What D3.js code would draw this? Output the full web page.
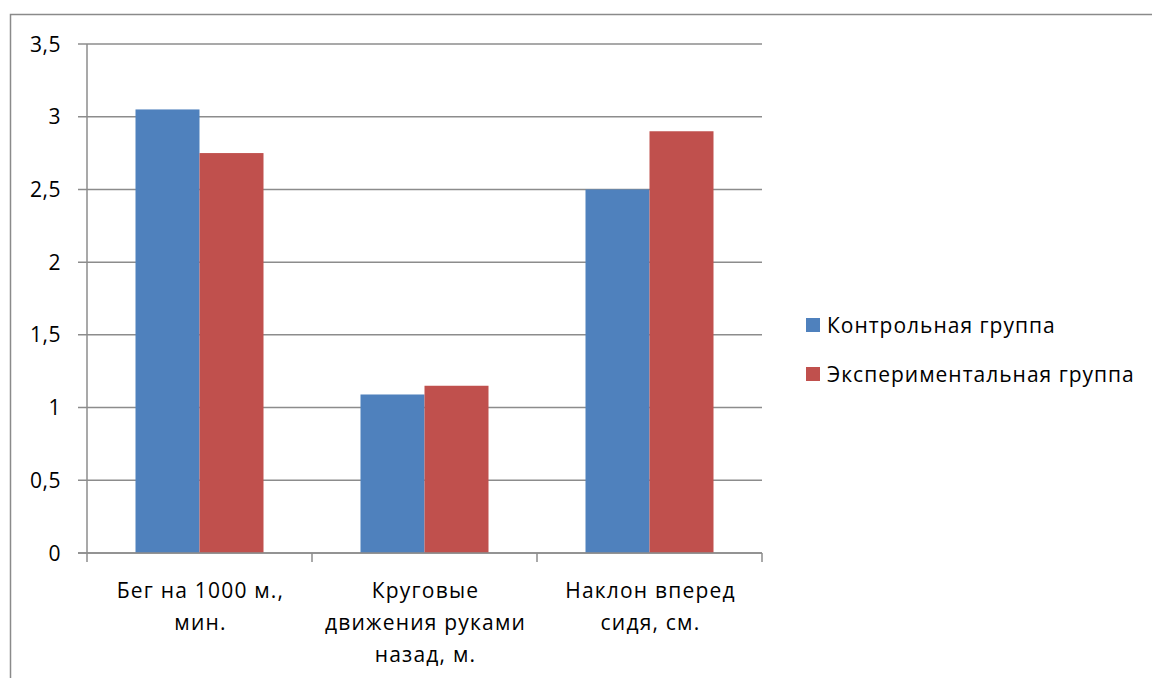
<!DOCTYPE html>
<html>
<head>
<meta charset="utf-8">
<script src="https://cdn.jsdelivr.net/npm/d3@7"></script>
<style>
  body { margin: 0; background: #fff; }
  svg text { font-family: "Open Sans", "Noto Sans", sans-serif; fill: #000; }
</style>
</head>
<body>
<div id="chart"></div>
<script>
// chart data
var categories = [
	["Бег на 1000 м.,", "мин."],
	["Круговые", "движения руками", "назад, м."],
	["Наклон вперед", "сидя, см."]
];
var seriesNames = ["Контрольная группа", "Экспериментальная группа"];
var controlValues = [3.05, 1.09, 2.5];
var experimentValues = [2.75, 1.15, 2.9];
var yTicks = [0, 0.5, 1, 1.5, 2, 2.5, 3, 3.5];
var colors = ["#4F81BD", "#C0504D"];

var width = 1152, height = 678;
var fontSize = "21px";

var svg = d3.select("#chart")
	.append("svg")
	.attr("width", width)
	.attr("height", height);

// outer chart frame (runs off right and bottom)
svg.append("rect")
	.attr("x", 10.5).attr("y", 14.5)
	.attr("width", 1200).attr("height", 800)
	.attr("fill", "none")
	.attr("stroke", "#8a8a8a")
	.attr("stroke-width", 1.5);

// plot area
var plot = {left: 87, right: 762, top: 44, bottom: 553};

var yScale = d3.scaleLinear()
	.domain([0, 3.5])
	.range([plot.bottom, plot.top]);

var xScale = d3.scaleBand()
	.domain(d3.range(categories.length))
	.range([plot.left, plot.right]);

var inner = d3.scaleBand()
	.domain([0, 1])
	.range([0, 128]);

// gridlines + y ticks
var grid = svg.append("g");
grid.selectAll("line")
	.data(yTicks)
	.enter()
	.append("line")
	.attr("x1", plot.left - 9)
	.attr("x2", plot.right)
	.attr("y1", function(d) { return yScale(d); })
	.attr("y2", function(d) { return yScale(d); })
	.attr("stroke", "#8c8c8c")
	.attr("stroke-width", 1.5);

svg.append("g").selectAll("text")
	.data(yTicks)
	.enter()
	.append("text")
	.attr("x", 61)
	.attr("y", function(d) { return yScale(d); })
	.attr("dy", "0.36em")
	.attr("text-anchor", "end")
	.style("font-size", fontSize)
	.style("letter-spacing", "0.5px")
	.text(function(d) { return String(d).replace(".", ","); });

// bars
var series = [controlValues, experimentValues];
var groups = svg.append("g").selectAll("g")
	.data(categories)
	.enter()
	.append("g")
	.attr("transform", function(d, i) {
		return "translate(" + (xScale(i) + xScale.bandwidth() / 2 - 64) + ",0)";
	});

groups.selectAll("rect")
	.data(function(d, i) { return series.map(function(s, k) { return {k: k, v: s[i]}; }); })
	.enter()
	.append("rect")
	.attr("x", function(d) { return inner(d.k); })
	.attr("width", inner.bandwidth())
	.attr("y", function(d) { return yScale(d.v); })
	.attr("height", function(d) { return plot.bottom - yScale(d.v); })
	.attr("fill", function(d) { return colors[d.k]; });

// axes lines
svg.append("line")
	.attr("x1", plot.left).attr("x2", plot.left)
	.attr("y1", plot.top).attr("y2", plot.bottom)
	.attr("stroke", "#8c8c8c").attr("stroke-width", 1.5);

svg.append("line")
	.attr("x1", plot.left - 9).attr("x2", plot.right)
	.attr("y1", plot.bottom).attr("y2", plot.bottom)
	.attr("stroke", "#8c8c8c").attr("stroke-width", 1.5);

// x ticks at category boundaries
var bounds = d3.range(categories.length + 1).map(function(i) {
	return i < categories.length ? xScale(i) : plot.right;
});
svg.append("g").selectAll("line")
	.data(bounds)
	.enter()
	.append("line")
	.attr("x1", function(d) { return d; })
	.attr("x2", function(d) { return d; })
	.attr("y1", plot.bottom)
	.attr("y2", plot.bottom + 9)
	.attr("stroke", "#8c8c8c").attr("stroke-width", 1.5);

// category labels
var labels = svg.append("g").selectAll("text")
	.data(categories)
	.enter()
	.append("text")
	.attr("text-anchor", "middle")
	.style("font-size", fontSize)
	.style("letter-spacing", "1.2px")
	.attr("transform", function(d, i) {
		return "translate(" + (xScale(i) + xScale.bandwidth() / 2 + 1) + ",598)";
	});

labels.selectAll("tspan")
	.data(function(d) { return d; })
	.enter()
	.append("tspan")
	.attr("x", 0)
	.attr("y", function(d, j) { return j * 32; })
	.text(function(d) { return d; });

// legend
var legend = svg.append("g").selectAll("g")
	.data(seriesNames)
	.enter()
	.append("g")
	.attr("transform", function(d, i) { return "translate(806," + (325 + i * 49) + ")"; });

legend.append("rect")
	.attr("x", 0).attr("y", -7)
	.attr("width", 14).attr("height", 14)
	.attr("fill", function(d, i) { return colors[i]; });

legend.append("text")
	.attr("x", 21)
	.attr("dy", "0.36em")
	.style("font-size", fontSize)
	.style("letter-spacing", "1px")
	.text(function(d) { return d; });
</script>
</body>
</html>
